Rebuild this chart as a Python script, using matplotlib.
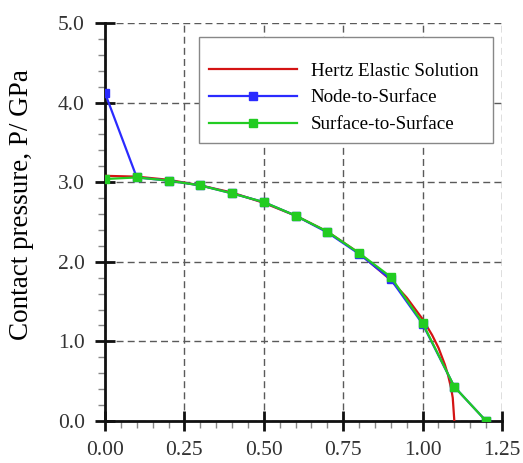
import matplotlib.pyplot as plt
from matplotlib.patches import Rectangle
from matplotlib.ticker import MultipleLocator

plt.rcParams["font.family"] = ["Liberation Serif", "DejaVu Serif"]

# Hertz elastic solution
hertz_x = [0.0, 0.1, 0.2, 0.3, 0.4, 0.5, 0.6, 0.7, 0.8, 0.9, 0.95, 1.0,
           1.03, 1.05, 1.07, 1.08, 1.09, 1.095, 1.1]
hertz_p = [3.08, 3.07, 3.03, 2.96, 2.87, 2.74, 2.58, 2.38, 2.11, 1.77, 1.55,
           1.28, 1.08, 0.92, 0.71, 0.58, 0.41, 0.29, 0.0]

# FE results
node_x = [0.0, 0.1, 0.2, 0.3, 0.4, 0.5, 0.6, 0.7, 0.8, 0.9, 1.0, 1.1, 1.2]
node_p = [4.12, 3.06, 3.02, 2.96, 2.86, 2.75, 2.58, 2.37, 2.10, 1.78, 1.22, 0.43, 0.0]

surf_x = [0.0, 0.1, 0.2, 0.3, 0.4, 0.5, 0.6, 0.7, 0.8, 0.9, 1.0, 1.1, 1.2]
surf_p = [3.04, 3.06, 3.02, 2.96, 2.86, 2.75, 2.58, 2.38, 2.11, 1.81, 1.23, 0.43, 0.0]

fig = plt.figure(figsize=(5.23, 4.63), dpi=100)
ax = fig.add_axes([0.2008, 0.0907, 0.759, 0.8596])

ax.plot(hertz_x, hertz_p, color="#d41414", linewidth=1.6, label="Hertz Elastic Solution", zorder=3)
ax.plot(node_x, node_p, color="#2b2bff", linewidth=1.6, marker="s", markersize=6,
        label="Node-to-Surface", zorder=4)
ax.plot(surf_x, surf_p, color="#22cc22", linewidth=1.6, marker="s", markersize=6,
        label="Surface-to-Surface", zorder=5)

ax.set_xlim(0, 1.25)
ax.set_ylim(0, 5.0)
ax.xaxis.set_major_locator(MultipleLocator(0.25))
ax.xaxis.set_minor_locator(MultipleLocator(0.05))
ax.yaxis.set_major_locator(MultipleLocator(1.0))
ax.yaxis.set_minor_locator(MultipleLocator(0.2))
ax.xaxis.set_major_formatter(plt.FormatStrFormatter("%.2f"))
ax.yaxis.set_major_formatter(plt.FormatStrFormatter("%.1f"))

ax.grid(True, which="major", linestyle=(0, (5, 3)), color="#5a5a5a", linewidth=1.0)
for spine in ["top", "right"]:
    ax.spines[spine].set_visible(False)
for spine in ["left", "bottom"]:
    ax.spines[spine].set_linewidth(2.0)
    ax.spines[spine].set_color("#111111")

ax.tick_params(which="major", direction="inout", length=15, width=2, labelsize=15.5,
               colors="#111111", labelcolor="#333333")
ax.tick_params(axis="x", which="major", pad=7)
ax.tick_params(axis="y", which="major", pad=7)
ax.tick_params(which="minor", direction="out", length=5, width=1, colors="#888888")

ax.set_ylabel("Contact pressure, P/ GPa", fontsize=19.5)
ax.yaxis.set_label_coords(-0.18, 0.545)

# legend frame drawn as a patch, entries placed inside it
frame = Rectangle((0.237, 0.698), 0.740, 0.267, transform=ax.transAxes,
                  facecolor="white", edgecolor="#888888", linewidth=1.0, zorder=6)
ax.add_patch(frame)
leg = ax.legend(loc="center left", bbox_to_anchor=(0.262, 0.812), fontsize=13.7,
                handlelength=4.6, handletextpad=0.75, frameon=False,
                borderpad=0, borderaxespad=0, labelspacing=0.5)
leg.set_zorder(7)

fig.savefig("out.png", dpi=100)
